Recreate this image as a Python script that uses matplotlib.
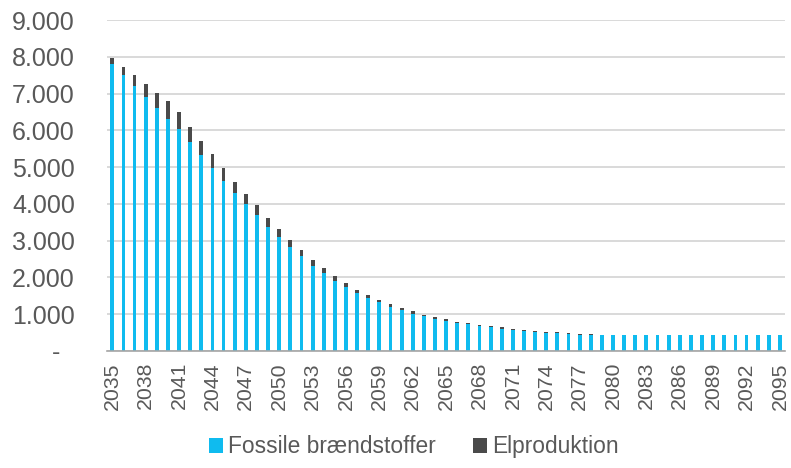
import matplotlib
matplotlib.use("Agg")
import matplotlib.pyplot as plt
import numpy as np

plt.rcParams["font.family"] = ["Liberation Sans", "DejaVu Sans"]

years = list(range(2035, 2096))

# total height of each stacked bar
totals = [
    7970, 7730, 7500, 7270, 7030, 6790, 6500, 6100, 5720, 5350,
    4970, 4610, 4270, 3960, 3620, 3310, 3020, 2750, 2470, 2260,
    2040, 1845, 1670, 1520, 1390, 1270, 1170, 1080, 990, 918,
    864, 797, 760, 712, 676, 640, 604, 577, 550, 523,
    514, 486, 468, 459, 441,
    440, 440, 440, 440, 440, 440, 440, 440, 440, 440,
    440, 440, 440, 440, 440, 440,
]
fossil = [
    7810, 7500, 7200, 6920, 6600, 6300, 6050, 5680, 5320, 4970,
    4630, 4300, 3990, 3700, 3370, 3100, 2820, 2580, 2320, 2110,
    1910, 1745, 1570, 1435, 1320, 1210, 1120, 1020, 945, 882,
    827, 764, 724, 685, 640, 595, 577, 550, 523, 486,
    477, 459, 441, 423, 423,
    430, 430, 430, 430, 430, 430, 430, 430, 430, 430,
    430, 430, 430, 430, 430, 430,
]
elprod = [t - f for t, f in zip(totals, fossil)]

series_names = ["Fossile brændstoffer", "Elproduktion"]
colors = ["#0FBBEF", "#4A4A4A"]
text_color = "#595959"

fig = plt.figure(figsize=(7.91, 4.68), dpi=100)
ax = fig.add_axes([0.135, 0.25, 0.858, 0.707])

x = np.arange(len(years))
ax.bar(x, fossil, width=0.34, color=colors[0], label=series_names[0], zorder=3)
ax.bar(x, elprod, width=0.34, bottom=fossil, color=colors[1],
       label=series_names[1], zorder=3)

# ---------- axes ----------
ax.set_xlim(-0.5, len(years) - 0.5)
ax.set_ylim(0, 9000)
yticks = list(range(0, 9001, 1000))
ax.set_yticks(yticks)
ax.set_yticklabels(["-  "] + [f"{v:,}".replace(",", ".") for v in yticks[1:]])
ax.set_xticks(x[::3])
ax.set_xticklabels([str(y) for y in years[::3]], rotation=90)

ax.grid(axis="y", color="#D9D9D9", linewidth=1.4, zorder=0)
for side in ["top", "right", "left"]:
    ax.spines[side].set_visible(False)
ax.spines["bottom"].set_color("#A6A6A6")
ax.spines["bottom"].set_linewidth(1.2)
ax.spines["bottom"].set_zorder(4)

ax.tick_params(axis="y", length=0, pad=23, labelsize=18, labelcolor=text_color)
ax.tick_params(axis="x", length=0, pad=8, labelsize=15.3, labelcolor=text_color)

# ---------- legend ----------
fig.legend(
    loc="center", bbox_to_anchor=(0.523, 0.045), ncol=2, frameon=False,
    fontsize=16.4, labelcolor=text_color,
    handlelength=0.6, handleheight=0.6, handletextpad=0.22,
    columnspacing=1.65,
)

plt.savefig("out.png", dpi=100)
